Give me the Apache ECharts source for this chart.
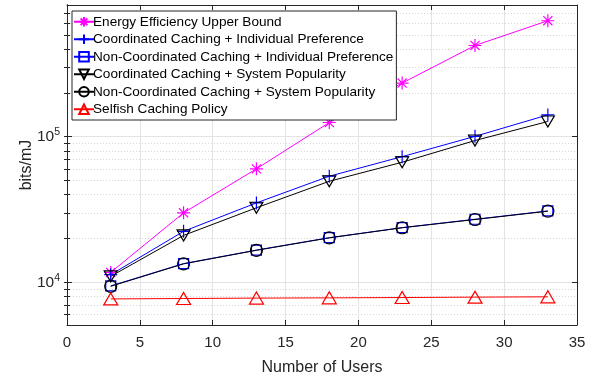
<!DOCTYPE html>
<html>
<head>
<meta charset="utf-8">
<script src="https://cdn.jsdelivr.net/npm/echarts@6/dist/echarts.min.js"></script>
<style>
  html, body { margin: 0; padding: 0; background: #fff; }
  #chart { width: 600px; height: 382px; }
</style>
</head>
<body>
<div id="chart"></div>
<script>
// Number of users on the x axis
const users = [3, 8, 13, 18, 23, 28, 33];

// Energy efficiency (bits/mJ) for each scheme
const upperBound          = [11700, 30000, 60100, 125000, 233000, 422000, 624000];
const coordIndividual     = [11300, 22400, 35100, 53500, 72900, 100400, 141000];
const nonCoordIndividual  = [9450, 13450, 16650, 20250, 23750, 27100, 30900];
const coordSystem         = [11000, 21000, 32500, 49400, 66700, 94000, 127000];
const nonCoordSystem      = [9400, 13400, 16600, 20200, 23700, 27000, 30800];
const selfish             = [7700, 7750, 7800, 7830, 7870, 7920, 7960];

const seriesNames = [
  'Energy Efficiency Upper Bound',
  'Coordinated Caching + Individual Preference',
  'Non-Coordinated Caching + Individual Preference',
  'Coordinated Caching + System Popularity',
  'Non-Coordinated Caching + System Popularity',
  'Selfish Caching Policy'
];

// Tick values of the logarithmic y axis
const yMajorTicks = [10000, 100000];
const yMinorTicks = [6000, 7000, 8000, 9000, 10000,
  20000, 30000, 40000, 50000, 60000, 70000, 80000, 90000, 100000,
  200000, 300000, 400000, 500000, 600000, 700000];

const FONT = 'Liberation Sans, Arial, Helvetica, sans-serif';
const AXIS_COLOR = '#262626';
const Y_MIN = 5100, Y_MAX = 800000;

const pairs = arr => users.map((u, i) => [u, arr[i]]);

const SYM = {
  star: 'path://M10,0L10,20M0,10L20,10M3,3L17,17M3,17L17,3',
  plus: 'path://M10,0L10,20M0,10L20,10',
  down: 'path://M0,0L20,0L10,17Z',
  up: 'path://M10,0L20,17L0,17Z'
};

function lineSeries(name, data, color, symbol, size) {
  return {
    name: name,
    type: 'line',
    data: pairs(data),
    symbol: symbol,
    symbolSize: size,
    showAllSymbol: true,
    lineStyle: { color: color, width: 1 },
    itemStyle: { color: 'rgba(0,0,0,0)', borderColor: color, borderWidth: 1.2 },
    emphasis: { disabled: true }
  };
}

const logAxisBase = {
  type: 'log',
  logBase: 10,
  min: Y_MIN,
  max: Y_MAX,
  axisLine: { show: true, lineStyle: { color: AXIS_COLOR, width: 1 } }
};

const option = {
  animation: false,
  backgroundColor: '#fff',
  grid: { left: 67, right: 23, top: 5, bottom: 57, containLabel: false },
  legend: {
    left: 72,
    top: 11,
    orient: 'vertical',
    itemWidth: 20,
    itemHeight: 12,
    itemGap: 2,
    padding: [3, 3, 3, 1],
    backgroundColor: '#fff',
    borderColor: AXIS_COLOR,
    borderWidth: 1,
    textStyle: { fontFamily: FONT, fontSize: 13.6, lineHeight: 15.5, color: '#000', padding: [0, 0, 0, -6] },
    data: seriesNames
  },
  xAxis: [
    {
      type: 'value',
      min: 0, max: 35, interval: 5,
      name: 'Number of Users',
      nameLocation: 'middle',
      nameGap: 35,
      nameMoveOverlap: false,
      nameTextStyle: { fontFamily: FONT, fontSize: 16, color: AXIS_COLOR },
      axisLine: { show: true, lineStyle: { color: AXIS_COLOR, width: 1 } },
      axisTick: { show: true, inside: true, length: 5, lineStyle: { color: AXIS_COLOR } },
      axisLabel: { fontFamily: FONT, fontSize: 15, color: AXIS_COLOR, margin: 10 },
      splitLine: { show: true, lineStyle: { color: '#e3e3e3', width: 1 } }
    },
    {
      type: 'value',
      position: 'top',
      min: 0, max: 35, interval: 5,
      axisLine: { show: true, lineStyle: { color: AXIS_COLOR, width: 1 } },
      axisTick: { show: true, inside: true, length: 5, lineStyle: { color: AXIS_COLOR } },
      axisLabel: { show: false },
      splitLine: { show: false }
    }
  ],
  yAxis: [
    Object.assign({}, logAxisBase, {
      position: 'left',
      name: 'bits/mJ',
      nameLocation: 'middle',
      nameGap: 32,
      nameMoveOverlap: false,
      nameRotate: 90,
      nameTextStyle: { fontFamily: FONT, fontSize: 16, color: AXIS_COLOR },
      axisTick: { show: true, inside: true, length: 3, customValues: yMinorTicks,
                  lineStyle: { color: AXIS_COLOR } },
      axisLabel: {
        customValues: yMajorTicks,
        margin: 7,
        formatter: v => '{b|10}{e|' + Math.round(Math.log10(v)) + '}',
        rich: {
          b: { fontFamily: FONT, fontSize: 15.5, color: AXIS_COLOR },
          e: { fontFamily: FONT, fontSize: 10.5, color: AXIS_COLOR, padding: [0, 0, 9, 0] }
        }
      },
      splitLine: { show: true, lineStyle: { color: '#d6d6d6', width: 1, type: [1, 2] } }
    }),
    Object.assign({}, logAxisBase, {
      position: 'right',
      axisTick: { show: true, inside: true, length: 3, customValues: yMinorTicks,
                  lineStyle: { color: AXIS_COLOR } },
      axisLabel: { show: false },
      splitLine: { show: false }
    }),
    Object.assign({}, logAxisBase, {
      position: 'left',
      axisTick: { show: true, inside: true, length: 5, customValues: yMajorTicks,
                  lineStyle: { color: AXIS_COLOR } },
      axisLabel: { show: false },
      splitLine: { show: true, lineStyle: { color: '#e3e3e3', width: 1 } }
    }),
    Object.assign({}, logAxisBase, {
      position: 'right',
      axisTick: { show: true, inside: true, length: 5, customValues: yMajorTicks,
                  lineStyle: { color: AXIS_COLOR } },
      axisLabel: { show: false },
      splitLine: { show: false }
    })
  ],
  series: [
    lineSeries(seriesNames[0], upperBound, '#ff00ff', SYM.star, 13),
    lineSeries(seriesNames[1], coordIndividual, '#0000ff', SYM.plus, 13),
    lineSeries(seriesNames[2], nonCoordIndividual, '#0000ff', 'rect', 10),
    lineSeries(seriesNames[3], coordSystem, '#000000', SYM.down, [13, 11]),
    lineSeries(seriesNames[4], nonCoordSystem, '#000000', 'circle', 12),
    lineSeries(seriesNames[5], selfish, '#ff0000', SYM.up, [14, 12])
  ]
};

const chart = echarts.init(document.getElementById('chart'), null, { renderer: 'canvas' });
chart.setOption(option);
</script>
</body>
</html>
